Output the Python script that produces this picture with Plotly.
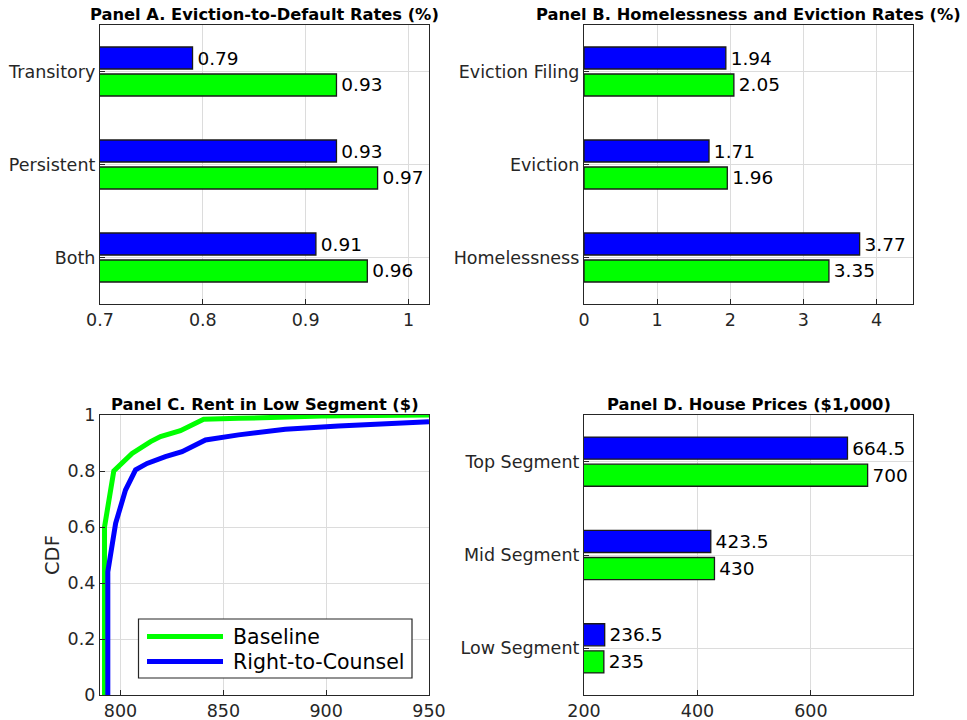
import plotly.graph_objects as go
from plotly.subplots import make_subplots

# ---- data ----
cats_a = ["Transitory", "Persistent", "Both"]
rtc_a = [0.79, 0.93, 0.91]
base_a = [0.93, 0.97, 0.96]

cats_b = ["Eviction Filing", "Eviction", "Homelessness"]
rtc_b = [1.94, 1.71, 3.77]
base_b = [2.05, 1.96, 3.35]

cats_d = ["Top Segment", "Mid Segment", "Low Segment"]
rtc_d = [664.5, 423.5, 236.5]
base_d = [700, 430, 235]

# rent CDFs in the low segment
rent_base = [792.2, 792.2, 796.7, 805.6, 814.6, 819.4, 829.1, 840.4, 857.4, 897.9, 950.0]
cdf_base = [0.0, 0.60, 0.80, 0.863, 0.905, 0.923, 0.944, 0.985, 0.988, 0.996, 1.0]
rent_rtc = [793.8, 793.8, 797.6, 802.4, 807.3, 812.9, 821.8, 829.9, 841.3, 857.4, 880.1, 906.0, 950.0]
cdf_rtc = [0.0, 0.44, 0.613, 0.732, 0.804, 0.827, 0.851, 0.869, 0.911, 0.929, 0.949, 0.961, 0.976]

BLUE = "#0000ff"
GREEN = "#00ff00"
INK = "#262626"
GRID = "#dcdcdc"
FONT = "DejaVu Sans"

W, H = 967, 720

fig = make_subplots(rows=2, cols=2)


def px_x(a, b):
    return [a / W, b / W]


def px_y(top, bottom):
    return [1 - bottom / H, 1 - top / H]


def bars(cats, base, rtc, row, col):
    for vals, color in ((base, GREEN), (rtc, BLUE)):
        fig.add_trace(
            go.Bar(
                y=cats, x=vals, orientation="h",
                marker=dict(color=color, line=dict(color="#1a1a1a", width=1.3)),
                text=[f"\u200a{v:g}" for v in vals], textposition="outside",
                textfont=dict(family=FONT, size=18.5, color="#000000"),
                constraintext="none", cliponaxis=False, showlegend=False,
            ),
            row=row, col=col,
        )


bars(cats_a, base_a, rtc_a, 1, 1)
bars(cats_b, base_b, rtc_b, 1, 2)
bars(cats_d, base_d, rtc_d, 2, 2)

fig.add_trace(go.Scatter(x=rent_base, y=cdf_base, mode="lines",
                         line=dict(color=GREEN, width=5), showlegend=False), row=2, col=1)
fig.add_trace(go.Scatter(x=rent_rtc, y=cdf_rtc, mode="lines",
                         line=dict(color=BLUE, width=5), showlegend=False), row=2, col=1)

axis_common = dict(
    automargin=False,
    showline=True, linecolor=INK, linewidth=1.3, mirror=True,
    ticks="inside", ticklen=5, tickcolor=INK, tickwidth=1,
    showgrid=True, gridcolor=GRID, gridwidth=1, zeroline=False,
    tickfont=dict(family=FONT, size=17.5, color=INK),
)

top, bot = px_y(25, 304), px_y(415, 695)
left, right = px_x(100, 429), px_x(584, 913)

fig.update_xaxes(**axis_common)
fig.update_yaxes(**axis_common)

# Panel A
fig.update_xaxes(domain=left, range=[0.7, 1.02], tickvals=[0.7, 0.8, 0.9, 1.0],
                 ticktext=["0.7", "0.8", "0.9", "1"], row=1, col=1)
fig.update_yaxes(domain=top, categoryorder="array", categoryarray=cats_a[::-1],
                 range=[-0.5, 2.5], row=1, col=1)
# Panel B
fig.update_xaxes(domain=right, range=[0, 4.5], tickvals=[0, 1, 2, 3, 4], row=1, col=2)
fig.update_yaxes(domain=top, categoryorder="array", categoryarray=cats_b[::-1],
                 range=[-0.5, 2.5], row=1, col=2)
# Panel C
fig.update_xaxes(domain=left, range=[790, 950], tickvals=[800, 850, 900, 950], row=2, col=1)
fig.update_yaxes(domain=bot, range=[0, 1], tickvals=[0, 0.2, 0.4, 0.6, 0.8, 1],
                 ticktext=["0", "0.2", "0.4", "0.6", "0.8", "1"], row=2, col=1)
# Panel D
fig.update_xaxes(domain=right, range=[200, 780], tickvals=[200, 400, 600], row=2, col=2)
fig.update_yaxes(domain=bot, categoryorder="array", categoryarray=cats_d[::-1],
                 range=[-0.5, 2.5], row=2, col=2)

titles = [
    ("Panel A. Eviction-to-Default Rates (%)", (100 + 429) / 2, 14),
    ("Panel B. Homelessness and Eviction Rates (%)", (584 + 913) / 2, 14),
    ("Panel C. Rent in Low Segment ($)", (100 + 429) / 2, 404),
    ("Panel D. House Prices ($1,000)", (584 + 913) / 2, 404),
]
annotations = []
for text, cx, cy in titles:
    annotations.append(dict(
        text=f"<b>{text}</b>", x=cx / W, y=1 - cy / H, xref="paper", yref="paper",
        xanchor="center", yanchor="middle", showarrow=False,
        font=dict(family=FONT, size=16.3, color="#000000"),
    ))

annotations.append(dict(
    text="CDF", x=52 / W, y=1 - 555 / H, xref="paper", yref="paper",
    xanchor="center", yanchor="middle", textangle=-90, showarrow=False,
    font=dict(family=FONT, size=19.5, color=INK),
))

# legend for the CDF panel
shapes = [dict(type="rect", xref="paper", yref="paper",
               x0=138.5 / W, x1=412 / W, y0=1 - 678 / H, y1=1 - 619 / H,
               line=dict(color=INK, width=1.2), fillcolor="white", layer="above")]
for label, color, cy in (("Baseline", GREEN, 636.5), ("Right-to-Counsel", BLUE, 661.5)):
    shapes.append(dict(type="line", xref="paper", yref="paper",
                       x0=147 / W, x1=223 / W, y0=1 - cy / H, y1=1 - cy / H,
                       line=dict(color=color, width=5), layer="above"))
    annotations.append(dict(
        text=label, x=231 / W, y=1 - cy / H, xref="paper", yref="paper",
        xanchor="left", yanchor="middle", showarrow=False,
        font=dict(family=FONT, size=20.5, color="#000000"),
    ))

fig.update_layout(
    width=W, height=H, margin=dict(l=0, r=0, t=0, b=0),
    paper_bgcolor="white", plot_bgcolor="white",
    barmode="group", bargap=0.42, bargroupgap=0.185,
    annotations=annotations, shapes=shapes,
    font=dict(family=FONT, color=INK),
)

fig.write_html("out.html")
